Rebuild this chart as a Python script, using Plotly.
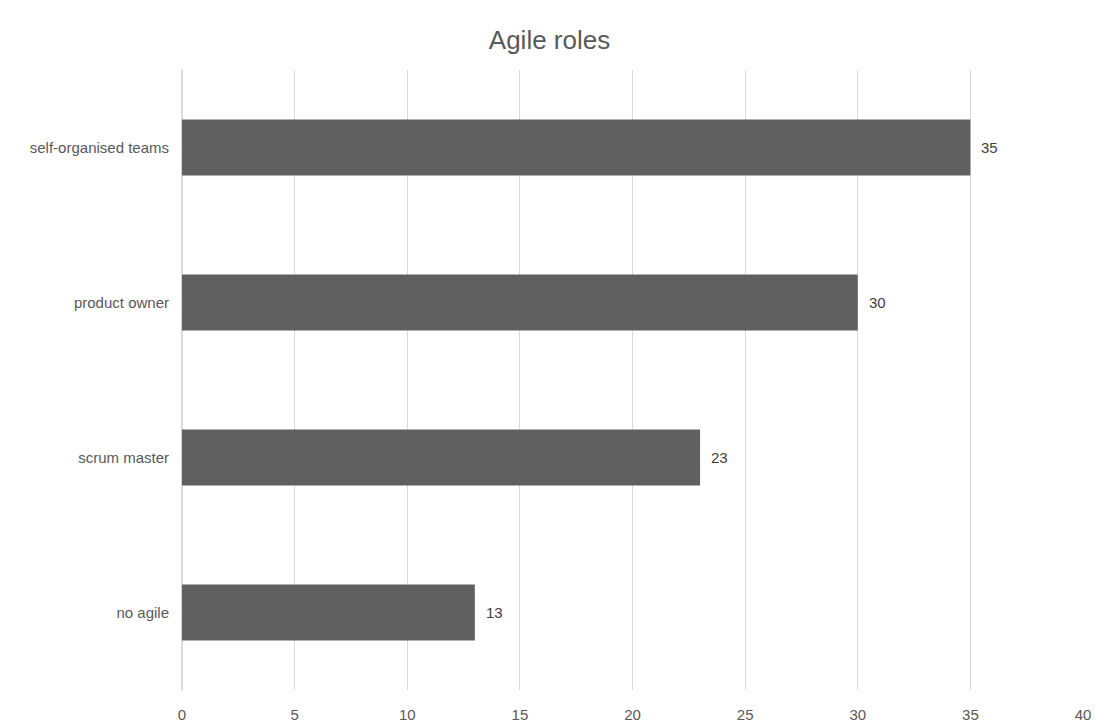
import plotly.graph_objects as go

categories = ["no agile", "scrum master", "product owner", "self-organised teams"]
counts = [13, 23, 30, 35]
x_ticks = [0, 5, 10, 15, 20, 25, 30, 35, 40]

FONT = "Liberation Sans Narrow, Arial Narrow, Liberation Sans, sans-serif"

fig = go.Figure(
    go.Bar(
        y=categories,
        x=counts,
        orientation="h",
        marker=dict(color="#606060", line=dict(width=0)),
        hoverinfo="x+y",
    )
)

# value labels placed just beyond the end of each bar
for cat, val in zip(categories, counts):
    fig.add_annotation(
        x=val,
        y=cat,
        text=str(val),
        showarrow=False,
        xanchor="left",
        yanchor="middle",
        xshift=9,
        font=dict(family=FONT, size=15, color="#404040"),
    )

fig.update_layout(
    width=1099,
    height=726,
    paper_bgcolor="white",
    plot_bgcolor="white",
    margin=dict(l=182, r=16, t=70, b=36, autoexpand=False),
    bargap=0.64,
    showlegend=False,
    title=dict(
        text="Agile roles",
        x=0.5,
        xanchor="center",
        y=0.945,
        yanchor="middle",
        font=dict(family=FONT, size=26, color="#595959"),
    ),
    font=dict(family=FONT, color="#595959"),
)

fig.update_xaxes(
    range=[0, 40],
    tickvals=x_ticks,
    ticktext=[str(t) for t in x_ticks],
    showgrid=True,
    gridcolor="#d9d9d9",
    gridwidth=1,
    zeroline=True,
    zerolinecolor="#d9d9d9",
    showline=False,
    ticks="",
    ticklabelstandoff=14,
    tickfont=dict(family=FONT, size=15, color="#595959"),
)

fig.update_yaxes(
    showgrid=False,
    showline=False,
    ticks="",
    ticklabelstandoff=12,
    tickfont=dict(family=FONT, size=15, color="#595959"),
)

fig.write_html("out.html")
